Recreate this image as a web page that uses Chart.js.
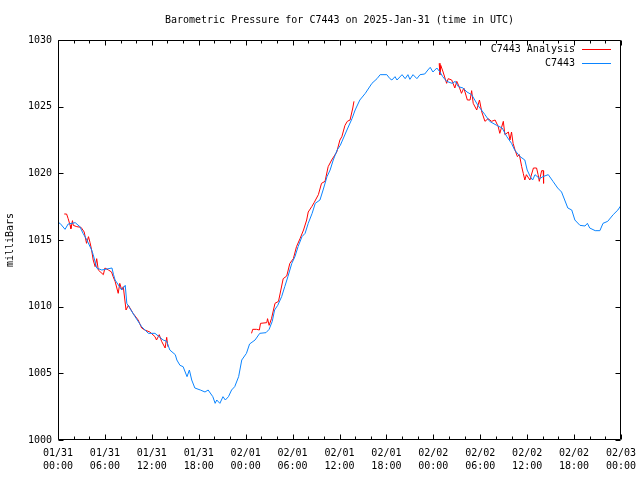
<!DOCTYPE html>
<html><head><meta charset="utf-8">
<script src="https://cdn.jsdelivr.net/npm/chart.js@4/dist/chart.umd.min.js"></script>
<style>html,body{margin:0;padding:0;background:#fff}#wrap{width:640px;height:480px}</style>
</head><body><div id="wrap"><canvas id="c" width="640" height="480"></canvas></div>
<script>
const titleText = 'Barometric Pressure for C7443 on 2025-Jan-31 (time in UTC)';
const yAxisTitle = 'milliBars';
const xTickDates = ['01/31','01/31','01/31','01/31','02/01','02/01','02/01','02/01','02/02','02/02','02/02','02/02','02/03'];
const xTickTimes = ['00:00','06:00','12:00','18:00','00:00','06:00','12:00','18:00','00:00','06:00','12:00','18:00','00:00'];
const yTickValues = [1000,1005,1010,1015,1020,1025,1030];
const seriesNames = ['C7443 Analysis','C7443'];
const seriesColors = ['#ff0000','#0a84ff'];

// observed (hours since 01/31 00:00 UTC, mb)
const obsHours = [0,0.26,0.9,1.3,2.2,2.8,3.2,3.7,4.3,4.5,4.95,5.6,6.9,7.1,7.3,8.15,8.6,8.8,9.85,10.7,11.55,12.4,13.45,13.9,14.3,15.0,15.2,15.6,16.0,16.5,16.8,17.1,17.5,18.2,18.8,19.2,19.8,20.1,20.3,20.7,21.1,21.4,21.8,22.2,22.6,23.1,23.5,24.1,24.5,25.2,25.8,26.6,27.0,27.4,27.7,28.1,28.6,29.0,29.4,29.9,30.3,30.7,31.2,31.6,32.0,32.5,32.9,33.5,33.9,34.4,34.8,35.2,35.7,36.1,36.95,37.6,38.0,38.6,39.3,40.15,40.8,41.2,42.05,42.45,42.7,43.1,43.35,44.0,44.4,44.75,45.0,45.4,45.9,46.3,46.9,47.3,47.6,47.95,48.45,48.85,49.2,49.7,50.4,50.8,51.2,51.8,52.3,52.9,53.3,53.7,54.6,55.2,56.1,56.8,57.4,58.0,58.4,59.1,59.7,60.0,60.4,60.7,61.0,61.6,62.0,62.7,63.3,63.9,64.4,64.8,65.2,65.7,66.1,66.75,67.4,67.7,68.0,68.7,69.3,69.7,70.3,71.0,71.6,72.0];
const obsValues = [1016.3,1016.25,1015.8,1016.2,1016.3,1016.0,1015.5,1015.0,1014.25,1013.9,1012.9,1012.75,1012.9,1012.4,1012.0,1011.25,1011.6,1010.25,1009.25,1008.5,1008.0,1008.0,1007.5,1007.4,1006.75,1006.4,1006.0,1005.6,1005.5,1004.75,1005.25,1004.5,1003.9,1003.75,1003.6,1003.75,1003.25,1002.75,1003.0,1002.75,1003.25,1003.0,1003.25,1003.75,1004.0,1004.75,1006.0,1006.5,1007.2,1007.5,1008.0,1008.05,1008.3,1008.9,1009.75,1010.1,1010.75,1011.5,1012.25,1013.25,1013.75,1014.5,1015.25,1015.5,1016.25,1017.0,1017.75,1018.0,1018.75,1019.75,1020.25,1021.0,1021.75,1022.1,1023.25,1024.1,1024.75,1025.5,1026.0,1026.75,1027.1,1027.4,1027.4,1027.1,1027.0,1027.25,1027.0,1027.4,1027.1,1027.4,1027.05,1027.4,1027.1,1027.4,1027.45,1027.75,1027.95,1027.6,1027.9,1027.6,1027.25,1026.9,1026.75,1026.9,1026.5,1026.4,1026.1,1025.9,1025.5,1025.1,1024.4,1023.9,1023.6,1023.4,1022.75,1022.25,1021.75,1021.25,1021.0,1020.25,1019.75,1019.5,1019.9,1019.6,1019.75,1019.9,1019.4,1018.9,1018.6,1018.0,1017.4,1017.25,1016.5,1016.1,1016.05,1016.25,1015.9,1015.7,1015.7,1016.25,1016.4,1016.9,1017.25,1017.6];

// analysis (null = gap between analysis runs)
const anaHours = [0.8,1.1,1.3,1.55,1.65,1.85,1.95,2.4,2.95,3.35,3.65,3.9,4.1,4.3,4.5,4.75,4.95,5.15,5.8,6.0,6.45,6.85,7.05,7.3,7.7,7.9,8.15,8.35,8.7,9.0,9.6,10.25,10.7,11.1,11.75,12.4,12.6,12.95,13.25,13.7,13.9,14.05,
  20,
  24.75,24.9,25.4,25.75,25.9,26.7,26.8,27.0,27.3,27.75,28.2,28.8,29.25,29.65,30.1,30.5,30.95,31.4,31.8,32.0,32.45,32.75,33.3,33.7,34.15,34.55,35.0,35.65,36.05,36.3,36.7,37.0,37.35,37.7,37.85,
  44,
  48.75,48.85,48.95,49.25,49.7,49.9,50.35,50.75,51.0,51.3,51.6,51.9,52.35,52.7,52.9,53.1,53.55,53.9,54.2,54.6,55.0,55.45,55.9,56.3,56.5,56.95,57.15,57.6,57.8,58.0,58.2,58.45,58.75,59.0,59.3,59.5,59.7,59.9,60.35,60.8,61.2,61.4,61.55,61.85,62.05,62.1];
const anaValues = [1016.95,1016.95,1016.6,1016.1,1015.85,1016.45,1016.1,1016.0,1015.95,1015.6,1014.75,1015.25,1014.8,1014.25,1013.5,1013.0,1013.6,1012.75,1012.4,1012.9,1012.75,1012.6,1012.25,1011.9,1011.0,1011.75,1011.25,1011.5,1009.75,1010.1,1009.5,1009.0,1008.4,1008.25,1008.1,1007.75,1007.5,1007.9,1007.4,1006.9,1007.7,1007.0,
  null,
  1008.0,1008.3,1008.3,1008.25,1008.75,1008.8,1009.1,1008.6,1009.1,1010.25,1010.4,1012.1,1012.3,1013.25,1013.6,1014.5,1015.1,1015.75,1016.5,1017.1,1017.5,1017.8,1018.4,1019.25,1019.4,1020.5,1021.0,1021.6,1022.5,1022.75,1023.6,1023.9,1024.0,1024.9,1025.4,
  null,
  1028.25,1027.4,1028.1,1027.6,1026.75,1027.1,1027.0,1026.4,1026.9,1026.5,1026.0,1026.4,1025.5,1025.5,1026.2,1025.25,1024.75,1025.5,1024.6,1023.9,1024.1,1023.9,1024.0,1023.5,1023.0,1023.9,1022.9,1023.1,1022.5,1023.1,1022.25,1021.75,1021.25,1021.4,1020.5,1020.0,1019.5,1019.9,1019.5,1020.4,1020.4,1019.9,1019.4,1020.2,1020.2,1019.25];

const FONT = 'DejaVu Sans Mono, Liberation Mono, monospace';

const framePlugin = {
  id: 'frame',
  afterDatasetsDraw(chart) {
    const ctx = chart.ctx, a = chart.chartArea;
    const xs = chart.scales.x, ys = chart.scales.y;
    ctx.save();
    ctx.strokeStyle = '#000';
    ctx.lineWidth = 1;
    ctx.beginPath();
    const L = Math.round(a.left) + 0.5, R = Math.round(a.right) - 0.5;
    const T = Math.round(a.top) + 0.5, B = Math.round(a.bottom) - 0.5;
    ctx.rect(L, T, R - L, B - T);
    for (let h = xs.min; h <= xs.max; h += 2) {
      const px = Math.round(xs.getPixelForValue(h)) + 0.5;
      const len = (h % 6 === 0) ? 5 : 3;
      ctx.moveTo(px, B); ctx.lineTo(px, B - len);
      ctx.moveTo(px, T); ctx.lineTo(px, T + len);
    }
    yTickValues.forEach(v => {
      const py = Math.round(ys.getPixelForValue(v)) + 0.5;
      ctx.moveTo(L, py); ctx.lineTo(L + 5, py);
      ctx.moveTo(R, py); ctx.lineTo(R - 5, py);
    });
    ctx.stroke();
    ctx.restore();
  },
  afterDraw(chart) {
    const ctx = chart.ctx;
    ctx.save();
    ctx.font = '10px ' + FONT;
    ctx.textAlign = 'right';
    ctx.textBaseline = 'middle';
    ctx.fillStyle = '#000';
    chart.data.datasets.forEach((ds, i) => {
      const y = 49 + 14 * i;
      ctx.fillText(ds.label, 575, y);
      ctx.strokeStyle = ds.borderColor;
      ctx.lineWidth = 1;
      ctx.beginPath();
      ctx.moveTo(582, y + 0.5); ctx.lineTo(611, y + 0.5);
      ctx.stroke();
    });
    ctx.restore();
  }
};

new Chart(document.getElementById('c'), {
  type: 'line',
  data: {
    datasets: [
      { label: seriesNames[0], data: anaHours.map((h, i) => ({x: h, y: anaValues[i]})),
        borderColor: seriesColors[0], borderWidth: 1, pointRadius: 0, tension: 0, spanGaps: false, order: 1 },
      { label: seriesNames[1], data: obsHours.map((h, i) => ({x: h, y: obsValues[i]})),
        borderColor: seriesColors[1], borderWidth: 1, pointRadius: 0, tension: 0, order: 0 }
    ]
  },
  options: {
    responsive: false,
    devicePixelRatio: 1,
    animation: false,
    events: [],
    layout: { padding: { left: 0, right: 19, top: 0, bottom: 0 } },
    plugins: {
      legend: { display: false },
      tooltip: { enabled: false },
      title: { display: true, text: titleText, color: '#000', fullSize: false,
        font: { family: FONT, size: 10, weight: 'normal', lineHeight: 1.2 },
        padding: { top: 14, bottom: 14 } }
    },
    scales: {
      x: {
        type: 'linear', min: 0, max: 72,
        afterFit(s) { s.height = 40; s.paddingLeft = 0; s.paddingRight = 0; },
        grid: { display: false, drawTicks: false },
        border: { display: false },
        ticks: {
          stepSize: 6, autoSkip: false, maxRotation: 0, minRotation: 0, padding: 7,
          color: '#000', font: { family: FONT, size: 10, lineHeight: 1.3 },
          callback(v) { const i = Math.round(v / 6); return [xTickDates[i], xTickTimes[i]]; }
        }
      },
      y: {
        type: 'linear', min: 1000, max: 1030,
        afterFit(s) { s.width = 58; s.paddingTop = 0; s.paddingBottom = 0; },
        grid: { display: false, drawTicks: false },
        border: { display: false },
        title: { display: true, text: yAxisTitle, color: '#000', padding: { top: 4, bottom: 4 },
          font: { family: FONT, size: 10, lineHeight: 1.2 } },
        afterBuildTicks(s) { s.ticks = yTickValues.map(v => ({ value: v })); },
        ticks: { padding: 6, color: '#000', font: { family: FONT, size: 10 },
          callback(v) { return String(v); } }
      }
    }
  },
  plugins: [framePlugin]
});
</script></body></html>
